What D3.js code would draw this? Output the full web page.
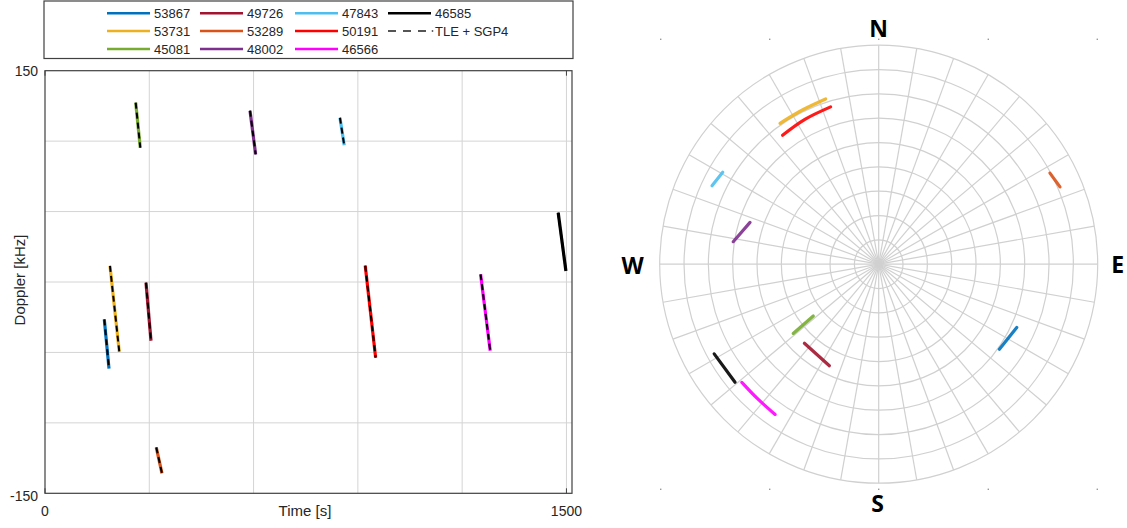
<!DOCTYPE html>
<html>
<head>
  <meta charset="utf-8">
  <script src="https://cdnjs.cloudflare.com/ajax/libs/d3/7.8.5/d3.min.js"></script>
  <title>Doppler and sky track</title>
  <style>
    body { margin: 0; background: #fff; }
    svg { display: block; font-family: "Liberation Sans", Arial, sans-serif; }
    .grid line { stroke: #d4d4d4; stroke-width: 1; }
    .polar-grid { fill: none; stroke: #d0d0d0; stroke-width: 1.2; }
    .lbl { fill: #262626; }
    .compass { font-family: "Open Sans", sans-serif; font-weight: 700; font-size: 23px; fill: #000; }
  </style>
</head>
<body>
<svg width="1127" height="528"></svg>
<script>
// satellites (NORAD ids) and colours
var sats   = ["53867", "53731", "45081", "49726", "53289", "48002", "47843", "50191", "46566", "46585"];
var colors = ["#0072BD", "#EDB120", "#77AC30", "#A2142F", "#D95319", "#7E2F8E", "#4DBEEE", "#FF0000", "#FF00FF", "#000000"];

// doppler passes: start/end time [s] and doppler [kHz]
var passTime    = [[170.6, 184.1], [186.9, 213.7], [260.9, 274.1], [290.5, 304.9], [320.1, 336.5],
                   [589.7, 606.0], [848.5, 860.8], [921.2, 951.1], [1253.1, 1280.7], [1476.3, 1498.5]];
var passDoppler = [[-26.5, -61.5], [11.4, -49.5], [127.3, 95.3], [-0.5, -41.7], [-117.4, -135.8],
                   [121.6, 90.6], [116.6, 97.0], [11.6, -53.7], [5.5, -48.8], [49.2, 7.8]];

// sky tracks: azimuth [deg] and elevation [deg]
var trackAz = [[114.6, 125.2], [325.0, 333.5, 342.2], [231.6, 231.0], [223.2, 205.9], [62.0, 66.9],
               [278.8, 288.0], [295.2, 300.5], [323.3, 333.0, 343.0], [229.2, 221.9, 214.6], [241.4, 230.6]];
var trackEl = [[27.6, 29.3], [19.3, 19.3, 18.7], [55.7, 44.8], [45.4, 43.6], [10.3, 9.0],
               [29.5, 34.4], [14.3, 15.6], [23.9, 23.2, 22.4], [15.7, 15.6, 15.0], [13.0, 13.6]];

// legend layout (row by row)
var legendRows = [["53867", "49726", "47843", "46585"],
                  ["53731", "53289", "50191", "TLE + SGP4"],
                  ["45081", "48002", "46566"]];

var xTicks = [0, 300, 600, 900, 1200, 1500],
    yTicks = [-150, -100, -50, 0, 50, 100, 150];
var ringEl = [80, 70, 60, 50, 40, 30, 20, 10, 0],
    spokes = d3.range(0, 360, 10);
var compass = [["N", 0], ["E", 90], ["S", 180], ["W", 270]];

var svg = d3.select("svg");

// ---------- left: doppler vs time ----------
var x = d3.scaleLinear().domain([0, 1516]).range([45, 572]);
var y = d3.scaleLinear().domain([-150, 150]).range([493.3, 70.7]);

var left = svg.append("g");

left.append("g").attr("class", "grid")
  .selectAll("line").data(xTicks.slice(1)).enter().append("line")
    .attr("x1", d => x(d)).attr("x2", d => x(d))
    .attr("y1", y(150)).attr("y2", y(-150));
left.append("g").attr("class", "grid")
  .selectAll("line").data(yTicks.slice(1, -1)).enter().append("line")
    .attr("x1", x(0)).attr("x2", x(1516))
    .attr("y1", d => y(d)).attr("y2", d => y(d));

// box
left.append("rect")
  .attr("x", x(0)).attr("y", y(150))
  .attr("width", x(1516) - x(0)).attr("height", y(-150) - y(150))
  .attr("fill", "none").attr("stroke", "#404040").attr("stroke-width", 1.2);

// inward ticks at the labelled ends
[0, 1500].forEach(function(t) {
  left.append("line").attr("x1", x(t)).attr("x2", x(t))
    .attr("y1", y(-150)).attr("y2", y(-150) - 5).attr("stroke", "#404040");
  left.append("line").attr("x1", x(t)).attr("x2", x(t))
    .attr("y1", y(150)).attr("y2", y(150) + 5).attr("stroke", "#404040");
});

// tick labels
left.append("text").attr("class", "lbl").attr("x", 38).attr("y", y(150) + 5)
  .attr("text-anchor", "end").attr("font-size", 14).text("150");
left.append("text").attr("class", "lbl").attr("x", 38).attr("y", y(-150) + 8)
  .attr("text-anchor", "end").attr("font-size", 14).text("-150");
left.append("text").attr("class", "lbl").attr("x", x(0)).attr("y", 516)
  .attr("text-anchor", "middle").attr("font-size", 14).text("0");
left.append("text").attr("class", "lbl").attr("x", x(1500)).attr("y", 516)
  .attr("text-anchor", "middle").attr("font-size", 14).text("1500");

// axis titles
left.append("text").attr("class", "lbl").attr("x", 305).attr("y", 516)
  .attr("text-anchor", "middle").attr("font-size", 15).text("Time [s]");
left.append("text").attr("class", "lbl")
  .attr("transform", "translate(25,280) rotate(-90)")
  .attr("text-anchor", "middle").attr("font-size", 15).text("Doppler [kHz]");

// passes: coloured measurement + dashed TLE/SGP4 prediction on top
var passLine = d3.line().x(d => x(d[0])).y(d => y(d[1]));
var passes = sats.map((s, i) => passTime[i].map((t, j) => [t, passDoppler[i][j]]));

left.selectAll(".meas").data(passes).enter().append("path")
  .attr("class", "meas").attr("d", passLine).attr("fill", "none")
  .attr("stroke", (d, i) => colors[i]).attr("stroke-width", 3.2);
left.selectAll(".tle").data(passes).enter().append("path")
  .attr("class", "tle").attr("d", passLine).attr("fill", "none")
  .attr("stroke", "#000").attr("stroke-width", 2).attr("stroke-dasharray", "6,4");

// legend
var leg = svg.append("g");
leg.append("rect").attr("x", 44).attr("y", 1).attr("width", 529).attr("height", 57.5)
  .attr("fill", "#fff").attr("stroke", "#404040").attr("stroke-width", 1.2);

var colX = [107, 200, 295, 388], rowY = [13.3, 31, 49];
legendRows.forEach(function(row, r) {
  row.forEach(function(name, c) {
    var cx = colX[c], cy = rowY[r], k = sats.indexOf(name);
    if (k >= 0) {
      leg.append("line").attr("x1", cx).attr("x2", cx + 43).attr("y1", cy).attr("y2", cy)
        .attr("stroke", colors[k]).attr("stroke-width", 2.5);
    } else {
      leg.append("line").attr("x1", cx).attr("x2", cx + 38).attr("y1", cy).attr("y2", cy)
        .attr("stroke", "#555").attr("stroke-width", 1.8).attr("stroke-dasharray", "8,7");
      leg.append("circle").attr("cx", cx + 44.5).attr("cy", cy).attr("r", 0.9).attr("fill", "#555");
    }
    leg.append("text").attr("class", "lbl").attr("x", cx + 47).attr("y", cy + 5)
      .attr("font-size", 13).text(name);
  });
});

// ---------- right: sky plot ----------
var cx0 = 878.7, cy0 = 264.2, R = 219;
var r = d3.scaleLinear().domain([90, 0]).range([0, R]);
var sky = svg.append("g").attr("transform", "translate(" + cx0 + "," + cy0 + ")");

function proj(az, el) {
  var a = az * Math.PI / 180;
  return [r(el) * Math.sin(a), -r(el) * Math.cos(a)];
}

sky.selectAll(".spoke").data(spokes).enter().append("line")
  .attr("class", "polar-grid").attr("x1", 0).attr("y1", 0)
  .attr("x2", d => proj(d, 0)[0]).attr("y2", d => proj(d, 0)[1]);
sky.selectAll(".ring").data(ringEl).enter().append("circle")
  .attr("class", "polar-grid").attr("r", d => r(d));

// stray tick dots of the hidden axes
var dotX = [-218, -109, 0, 109.6, 218.6];
dotX.forEach(function(dx) {
  [39.3 - cy0, 489.3 - cy0].forEach(function(dy) {
    sky.append("rect").attr("x", dx - 0.7).attr("y", dy - 0.7)
      .attr("width", 1.4).attr("height", 1.4).attr("fill", "#999");
  });
});

var skyLine = d3.line().x(d => d[0]).y(d => d[1]).curve(d3.curveNatural);
var tracks = sats.map((s, i) => trackAz[i].map((a, j) => proj(a, trackEl[i][j])));
sky.selectAll(".track").data(tracks).enter().append("path")
  .attr("class", "track").attr("d", skyLine).attr("fill", "none")
  .attr("stroke", (d, i) => colors[i]).attr("stroke-width", 3.2)
  .attr("stroke-linecap", "round").attr("opacity", 0.9);

// compass letters
var compassPos = { N: [0, 37 - cy0], S: [-1, 512 - cy0], W: [-246, 10], E: [239, 9] };
compass.forEach(function(c) {
  var p = compassPos[c[0]];
  sky.append("text").attr("class", "compass").attr("x", p[0]).attr("y", p[1])
    .attr("text-anchor", "middle").text(c[0]);
});
</script>
</body>
</html>
